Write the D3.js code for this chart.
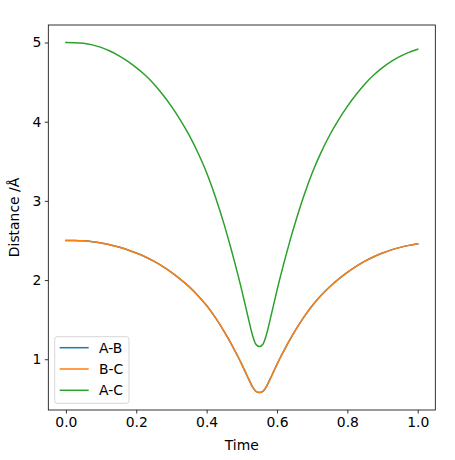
<!DOCTYPE html>
<html>
<head>
<meta charset="utf-8">
<script src="https://cdn.jsdelivr.net/npm/d3@7"></script>
<style>
html,body{margin:0;padding:0;background:#fff;}
svg{display:block;font-family:"DejaVu Sans",sans-serif;}
</style>
</head>
<body>
<svg id="chart" width="455" height="460"></svg>
<script>
const time = [0,0.025,0.05,0.075,0.1,0.125,0.15,0.175,0.2,0.225,0.25,0.275,0.3,0.325,0.35,0.375,0.4,0.425,0.45,
  0.46,0.47,0.48,0.49,0.5,0.51,0.52,0.53,0.54,0.55,0.56,0.57,0.58,0.59,0.6,0.61,0.62,0.63,0.64,0.65,
  0.675,0.7,0.725,0.75,0.775,0.8,0.825,0.85,0.875,0.9,0.925,0.95,0.975,1.0];
const abValues = [2.5,2.499,2.495,2.485,2.469,2.446,2.418,2.383,2.341,2.295,2.238,2.172,2.097,2.012,1.917,1.806,1.678,1.525,1.35,
  1.273,1.193,1.11,1.025,0.935,0.84,0.745,0.655,0.595,0.58,0.595,0.655,0.745,0.84,0.935,1.025,1.11,1.193,1.273,1.348,
  1.523,1.676,1.805,1.916,2.012,2.097,2.172,2.238,2.295,2.341,2.381,2.413,2.438,2.458];
const bcValues = [2.5,2.499,2.495,2.485,2.469,2.446,2.418,2.383,2.341,2.295,2.238,2.172,2.097,2.012,1.917,1.806,1.678,1.525,1.35,
  1.273,1.193,1.11,1.025,0.935,0.84,0.745,0.655,0.595,0.58,0.595,0.655,0.745,0.84,0.935,1.025,1.11,1.193,1.273,1.348,
  1.523,1.676,1.805,1.916,2.012,2.097,2.172,2.238,2.295,2.341,2.381,2.413,2.438,2.458];
const acValues = [5.0,4.998,4.99,4.97,4.938,4.893,4.835,4.765,4.683,4.589,4.477,4.344,4.194,4.024,3.834,3.611,3.356,3.05,2.70,
  2.545,2.385,2.22,2.05,1.87,1.68,1.49,1.31,1.19,1.16,1.19,1.31,1.49,1.68,1.87,2.05,2.22,2.385,2.545,2.695,
  3.045,3.352,3.61,3.832,4.024,4.194,4.344,4.477,4.589,4.683,4.762,4.825,4.875,4.915];
const seriesNames = ["A-B","B-C","A-C"];
const seriesColors = ["#1f77b4","#ff7f0e","#2ca02c"];
const xTicks = [0,0.2,0.4,0.6,0.8,1.0];
const yTicks = [1,2,3,4,5];
const xLabel = "Time";
const yLabel = "Distance /Å";

const series = [abValues, bcValues, acValues].map((vals,i)=>({
  name: seriesNames[i], color: seriesColors[i],
  points: time.map((t,j)=>({t, v: vals[j]}))
}));

const L = 48.3, R = 435.3, T = 25, B = 410;
const svg = d3.select("#chart");

const allV = [].concat(abValues,bcValues,acValues);
const vmin = d3.min(allV), vmax = d3.max(allV);
const ypad = (vmax - vmin) * 0.05;
const x = d3.scaleLinear().domain([-0.05, 1.05]).range([L, R]);
const y = d3.scaleLinear().domain([vmin - ypad, vmax + ypad]).range([B, T]);

const g = svg.append("g");

const line = d3.line().x(d=>x(d.t)).y(d=>y(d.v)).curve(d3.curveMonotoneX);
svg.append("clipPath").attr("id","clip").append("rect")
  .attr("x",L).attr("y",T).attr("width",R-L).attr("height",B-T);
g.append("g").attr("clip-path","url(#clip)").selectAll("path").data(series).join("path")
  .attr("d", d=>line(d.points))
  .attr("fill","none").attr("stroke",d=>d.color).attr("stroke-width",1.5)
  .attr("stroke-linejoin","round").attr("stroke-linecap","square");

const xAxis = d3.axisBottom(x).tickValues(xTicks).tickFormat(d3.format(".1f")).tickSize(3.5).tickPadding(3.5);
const yAxis = d3.axisLeft(y).tickValues(yTicks).tickFormat(d3.format("d")).tickSize(3.5).tickPadding(3.5);

const gx = svg.append("g").attr("transform",`translate(0,${B})`).call(xAxis);
const gy = svg.append("g").attr("transform",`translate(${L},0)`).call(yAxis);
[gx,gy].forEach(a=>{
  a.select(".domain").remove();
  a.selectAll(".tick line").attr("stroke","#000").attr("stroke-width",0.8);
  a.selectAll(".tick text").attr("fill","#000").style("font-size","13.9px").style("font-family","DejaVu Sans");
});

svg.append("rect").attr("x",L).attr("y",T).attr("width",R-L).attr("height",B-T)
  .attr("fill","none").attr("stroke","#000").attr("stroke-width",0.8);

svg.append("text").attr("x",(L+R)/2).attr("y",450).attr("text-anchor","middle")
  .style("font-size","13.9px").text(xLabel);
svg.append("text").attr("transform",`translate(19,${(T+B)/2}) rotate(-90)`).attr("text-anchor","middle")
  .style("font-size","13.9px").text(yLabel);

// legend
const lg = svg.append("g");
lg.append("rect").attr("x",54.7).attr("y",336.7).attr("width",74.3).attr("height",66.6)
  .attr("rx",2.5).attr("fill","#fff").attr("fill-opacity",0.8).attr("stroke","#cccccc").attr("stroke-width",0.8);
const ly = d3.scaleLinear().domain([0,2]).range([347.7,390.3]);
const items = lg.selectAll("g.item").data(series).join("g").attr("class","item")
  .attr("transform",(d,i)=>`translate(0,${ly(i)})`);
items.append("line").attr("x1",59.7).attr("x2",88.7).attr("y1",0).attr("y2",0)
  .attr("stroke",d=>d.color).attr("stroke-width",1.5);
items.append("text").attr("x",99).attr("y",0).attr("dy","0.35em")
  .style("font-size","13.9px").text(d=>d.name);
</script>
</body>
</html>
